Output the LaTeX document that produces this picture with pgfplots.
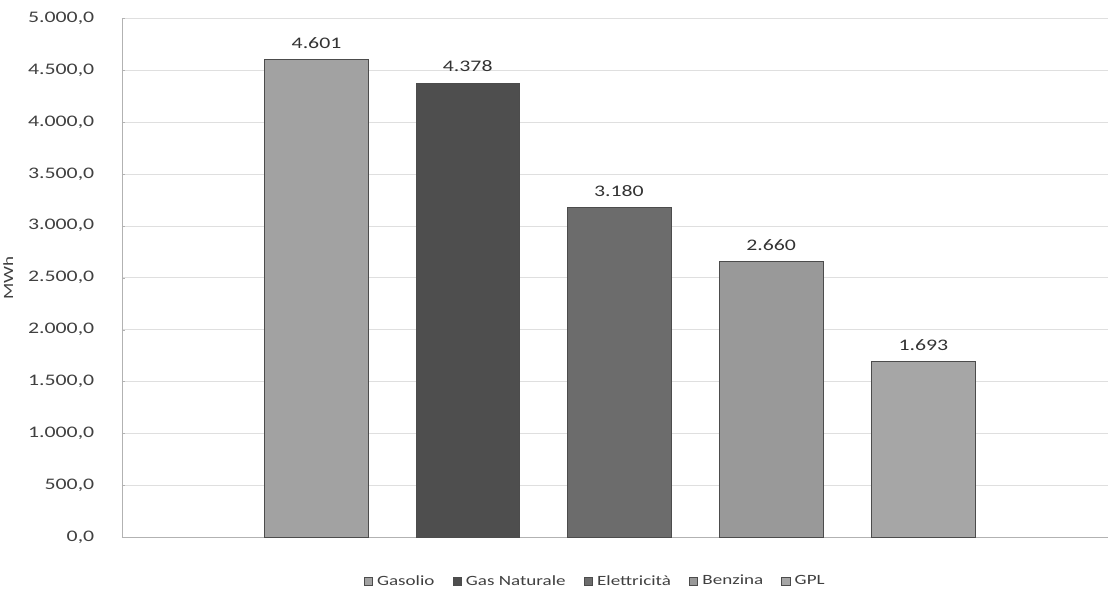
\documentclass[border=0pt]{standalone}
\usepackage{pgfplots}
\pgfplotsset{compat=1.18}
\usepackage{fontspec}
\setmainfont{Carlito}[FakeStretch=1.35]
\definecolor{cGasolio}{HTML}{A2A2A2}
\definecolor{cGas}{HTML}{4E4E4E}
\definecolor{cElet}{HTML}{6C6C6C}
\definecolor{cBenz}{HTML}{999999}
\definecolor{cGPL}{HTML}{A6A6A6}
\begin{document}
\begin{tikzpicture}
\begin{axis}[
	scale only axis,
	width=978pt, height=515pt,
	xmin=0, xmax=978,
	ymin=0, ymax=5000,
	ytick={0,500,...,5000},
	xtick=\empty,
	clip=false,
	axis x line*=bottom,
	axis y line*=left,
	axis line style={gray!60, -},
	ymajorgrids,
	grid style={gray!25},
	major tick length=3pt,
	tick style={gray!60},
	ylabel={MWh},
	ylabel style={font=\fontsize{14}{16}\selectfont, color=black!75, yshift=8pt},
	yticklabel style={font=\fontsize{16}{18}\selectfont, color=black!75, xshift=-24pt},
	/pgf/number format/assume math mode=true,
	/pgf/number format/.cd, fixed, fixed zerofill, precision=1, use comma, 1000 sep={.},
	/pgfplots/.cd,
	scaled y ticks=false,
	ybar, bar shift=0pt, bar width=103,
	nodes near coords,
	point meta=explicit symbolic,
	every node near coord/.append style={font=\fontsize{16}{18}\selectfont, color=black!80, yshift=7pt},
	legend columns=5,
	legend style={at={(0.48,-0.065)}, anchor=north, draw=none, fill=none,
		font=\fontsize{14}{16}\selectfont, text=black!75,
		/tikz/every even column/.append style={column sep=16pt}},
	legend image code/.code={\path[draw=none, fill=none] (0pt,-4pt) rectangle (11pt,4pt); \fill[#1] (0pt,-4pt) rectangle (8pt,4pt);},
]
\addplot[fill=cGasolio, draw=black!70] coordinates {(193,4601) [4.601]};
\addplot[fill=cGas, draw=black!70] coordinates {(343,4378) [4.378]};
\addplot[fill=cElet, draw=black!70] coordinates {(493,3180) [3.180]};
\addplot[fill=cBenz, draw=black!70] coordinates {(644,2660) [2.660]};
\addplot[fill=cGPL, draw=black!70] coordinates {(795,1693) [1.693]};
\legend{Gasolio, Gas Naturale, Elettricità, Benzina, GPL}
\path (rel axis cs:0,1) ++(0pt,18pt);
\end{axis}
\end{tikzpicture}
\end{document}
